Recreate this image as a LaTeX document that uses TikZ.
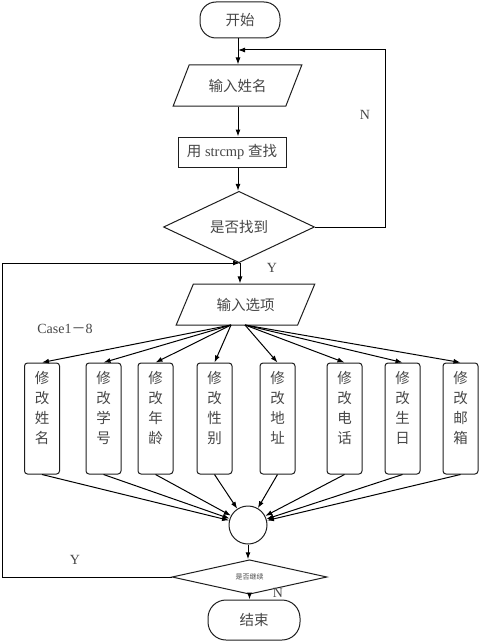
\documentclass[tikz,border=0pt]{standalone}
\usepackage{fontspec}
\setmainfont{Liberation Serif}
\newfontfamily\cjk{Noto Sans CJK SC}
\usetikzlibrary{shapes.geometric, arrows.meta}

\definecolor{lineblk}{RGB}{30,30,30}
\definecolor{txtgray}{RGB}{70,70,70}

\tikzset{
  termbox/.style={draw=lineblk, rounded corners=16pt, minimum width=80pt,
    minimum height=36pt, text=txtgray, font=\cjk\fontsize{14.5}{16}\selectfont},
  iobox/.style={draw=lineblk, trapezium, trapezium left angle=62,
    trapezium right angle=118, trapezium stretches=true, minimum height=41pt,
    text=txtgray, font=\cjk\fontsize{14.5}{16}\selectfont},
  procbox/.style={draw=lineblk, minimum width=108pt, minimum height=30pt,
    text=txtgray, font=\fontsize{14.5}{16}\selectfont},
  testbox/.style={draw=lineblk, diamond, inner sep=0pt, text=txtgray,
    font=\cjk\fontsize{14.5}{16}\selectfont},
  editbox/.style={draw=lineblk, rounded corners=3pt, minimum width=35pt,
    minimum height=111pt, inner sep=1pt, align=center, text depth=22pt,
    text=txtgray, font=\cjk\fontsize{14.5}{20}\selectfont},
  mergept/.style={draw=lineblk, circle, minimum size=38pt, inner sep=0pt},
  tag/.style={text=txtgray, font=\fontsize{14}{16}\selectfont}
}

\begin{document}
\begin{tikzpicture}[x=1pt, y=-1pt, line width=1pt, >={Latex[length=7pt,width=5pt]}]
  \useasboundingbox (0,0) rectangle (479,642);

  % main column
  \node[termbox] (start) at (240,20) {开始};
  \node[iobox, minimum width=129pt] (name) at (237.5,85.5) {输入姓名};
  \node[procbox] (find) at (232,152) {{\cjk 用} strcmp {\cjk 查找}};
  \node[testbox, minimum width=151pt, minimum height=60pt] (found) at (239,227) {是否找到};
  \node[iobox, minimum width=139pt] (opt) at (245.5,304.5) {输入选项};

  % the eight edit branches
  \node[editbox] (b1) at (42,418.5) {修\\改\\姓\\名};
  \node[editbox] (b2) at (103.5,418.5) {修\\改\\学\\号};
  \node[editbox] (b3) at (155.5,418.5) {修\\改\\年\\龄};
  \node[editbox] (b4) at (214.5,418.5) {修\\改\\性\\别};
  \node[editbox] (b5) at (277.5,418.5) {修\\改\\地\\址};
  \node[editbox] (b6) at (344.5,418.5) {修\\改\\电\\话};
  \node[editbox] (b7) at (402.5,418.5) {修\\改\\生\\日};
  \node[editbox] (b8) at (460.5,418.5) {修\\改\\邮\\箱};

  \node[mergept] (merge) at (248,525) {};
  \node[testbox, minimum width=155pt, minimum height=34pt,
    font=\cjk\fontsize{7}{8}\selectfont] (more) at (249.5,577) {是否继续};
  \node[termbox, minimum width=92pt, minimum height=40pt, rounded corners=18pt]
    (end) at (254,620) {结束};

  % turning points of the two loops
  \coordinate (njoin) at (238,50);
  \coordinate (nturn) at (385,50);
  \coordinate (yjoin) at (240,263);
  \coordinate (yturn) at (2,263);
  \coordinate (fanL) at (231,325);
  \coordinate (fanR) at (245,325);

  % spine
  \draw (start.south -| njoin) -- (njoin);
  \draw[->] (njoin) -- (njoin |- name.north);
  \draw[->] (name.south -| njoin) -- (njoin |- find.north);
  \draw[->] (find.south -| njoin) -- (njoin |- found.north);
  \draw (found.south) -- (yjoin);
  \draw[->] (yjoin) -- (yjoin |- opt.north);

  % not found: back to the name input
  \draw[->] (found.east) -| (nturn) -- (njoin);
  \node[tag] (nlab) at (365,115) {N};
  \node[tag] (ylab) at (272,268) {Y};

  % options fan out
  \node[tag] (caselab) at (65,329) {Case1{\cjk －}8};
  \draw[->] (fanL) -- (b1.north);
  \draw[->] (fanL) -- (b2.north);
  \draw[->] (fanL) -- (b3.north);
  \draw[->] (fanL) -- (b4.north);
  \draw[->] (fanR) -- (b5.north);
  \draw[->] (fanR) -- (b6.north);
  \draw[->] (fanR) -- (b7.north);
  \draw[->] (fanR) -- (b8.north);

  % and come together again
  \draw[->] (b1.south) -- (merge);
  \draw[->] (b2.south) -- (merge);
  \draw[->] (b3.south) -- (merge);
  \draw[->] (b4.south) -- (merge);
  \draw[->] (b5.south) -- (merge);
  \draw[->] (b6.south) -- (merge);
  \draw[->] (b7.south) -- (merge);
  \draw[->] (b8.south) -- (merge);
  \draw[->] (merge.south) -- (merge.south |- more.north);

  % continue or stop
  \draw[->] (more.west) -| (yturn) -- (yjoin);
  \node[tag] (ylab2) at (75,560) {Y};
  \draw[->] (more.south) -- (more.south |- end.north);
  \node[tag] (nlab2) at (278,593) {N};

\end{tikzpicture}
\end{document}
